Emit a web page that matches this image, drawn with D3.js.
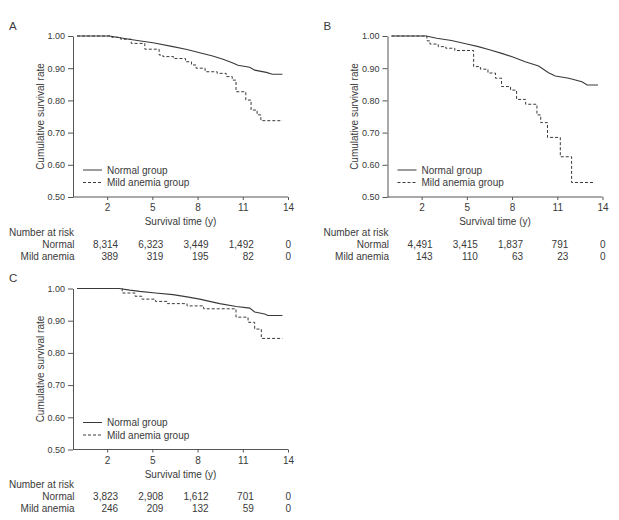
<!DOCTYPE html>
<html>
<head>
<meta charset="utf-8">
<script src="https://cdn.jsdelivr.net/npm/d3@7"></script>
<style>
    body { margin: 0; background: #fff; }
    svg text { font-family: "Liberation Sans", Arial, sans-serif; fill: #3a3a3a; }
</style>
</head>
<body>
<div id="chart"></div>
<script>
// values
const timeTicks = [2, 5, 8, 11, 14]
const rateTicks = [0.5, 0.6, 0.7, 0.8, 0.9, 1.0]
const groupNames = ["Normal group", "Mild anemia group"]
const riskLabels = ["Normal", "Mild anemia"]

// A
const normalTimeA = [0, 2.15, 3.05, 4.0, 5.04, 6.37, 7.3, 8.14, 9.0, 9.69, 10.3, 10.68, 11.46, 11.79, 12.56, 12.96, 13.63]
const normalRateA = [1, 1, 0.993, 0.986, 0.979, 0.967, 0.958, 0.948, 0.938, 0.928, 0.917, 0.909, 0.903, 0.894, 0.887, 0.881, 0.881]
const mildTimeA = [0, 2.3, 2.9, 3.6, 4.5, 5.45, 5.7, 6.4, 7.2, 7.6, 7.9, 8.5, 9.3, 9.9, 10.3, 10.55, 11.2, 11.55, 11.95, 12.2, 13.63]
const mildRateA = [1, 0.996, 0.99, 0.977, 0.959, 0.941, 0.936, 0.93, 0.92, 0.91, 0.9, 0.889, 0.884, 0.874, 0.863, 0.827, 0.801, 0.77, 0.755, 0.737, 0.737]
const riskNormalA = [8314, 6323, 3449, 1492, 0]
const riskMildA = [389, 319, 195, 82, 0]

// B
const normalTimeB = [0, 2.3, 3.0, 3.98, 5.0, 5.76, 6.5, 7.31, 8.1, 8.87, 9.76, 10.42, 10.87, 11.76, 12.64, 12.98, 13.7]
const normalRateB = [1, 1, 0.993, 0.986, 0.975, 0.967, 0.957, 0.946, 0.934, 0.92, 0.907, 0.886, 0.876, 0.869, 0.858, 0.848, 0.848]
const mildTimeB = [0, 2.35, 2.55, 3.1, 3.6, 4.2, 5.45, 5.9, 6.4, 6.9, 7.3, 7.9, 8.3, 8.9, 9.65, 9.9, 10.35, 11.2, 11.95, 13.42]
const mildRateB = [1, 0.985, 0.975, 0.967, 0.962, 0.955, 0.905, 0.897, 0.885, 0.869, 0.843, 0.832, 0.803, 0.788, 0.755, 0.731, 0.685, 0.625, 0.545, 0.545]
const riskNormalB = [4491, 3415, 1837, 791, 0]
const riskMildB = [143, 110, 63, 23, 0]

// C
const normalTimeC = [0, 2.8, 3.5, 4.16, 5.2, 6.37, 7.3, 8.14, 8.8, 9.47, 10.57, 11.46, 11.79, 12.45, 12.67, 13.63]
const normalRateC = [1, 1, 0.995, 0.991, 0.986, 0.981, 0.974, 0.967, 0.96, 0.953, 0.944, 0.939, 0.927, 0.921, 0.916, 0.916]
const mildTimeC = [0, 3.0, 3.85, 4.3, 5.2, 6.0, 7.3, 8.4, 10.55, 11.35, 11.79, 12.23, 13.63]
const mildRateC = [1, 0.986, 0.976, 0.967, 0.96, 0.953, 0.946, 0.937, 0.911, 0.895, 0.874, 0.845, 0.845]
const riskNormalC = [3823, 2908, 1612, 701, 0]
const riskMildC = [246, 209, 132, 59, 0]

const width = 619
const height = 520

const svg = d3.select("#chart")
    .append("svg")
    .attr("width", width)
    .attr("height", height)

const ink = "#3a3a3a"

function drawPanel(p) {
    const plotH = 161
    const bottom = p.top + plotH

    const x = d3.scaleLinear().domain([0, 14]).range([p.left + 4, p.left + 215])
    const y = d3.scaleLinear().domain([0.5, 1]).range([bottom, p.top])

    const g = svg.append("g")

    //panel letter
    g.append("text")
        .attr("x", p.left - 64)
        .attr("y", p.top - 6.5)
        .style("font-size", "11.5px")
        .text(p.letter)

    //y axis
    const yAxis = g.append("g")
        .attr("transform", `translate(${p.left},0)`)
        .call(d3.axisLeft(y).tickValues(rateTicks).tickFormat(d3.format(".2f"))
            .tickSize(5).tickSizeOuter(0).tickPadding(3))
    yAxis.selectAll("text").style("font-size", "9px").attr("fill", ink)

    g.append("text")
        .attr("transform", `translate(${p.left - 29.5},${(p.top + bottom) / 2}) rotate(-90)`)
        .attr("text-anchor", "middle")
        .style("font-size", "10px")
        .text("Cumulative survival rate")

    //x axis, the line starts at the y axis
    const xAxis = g.append("g")
        .attr("transform", `translate(0,${bottom})`)
        .call(d3.axisBottom(x).tickValues(timeTicks).tickSize(3).tickSizeOuter(0).tickPadding(4))
    xAxis.select(".domain").remove()
    xAxis.append("line")
        .attr("x1", p.left)
        .attr("x2", x(14))
        .attr("stroke", "currentColor")
    xAxis.selectAll("text").style("font-size", "10px").attr("fill", ink)

    g.selectAll(".domain, .tick line, line").attr("stroke", "#555")

    g.append("text")
        .attr("x", (p.left + x(14)) / 2)
        .attr("y", bottom + 28.2)
        .attr("text-anchor", "middle")
        .style("font-size", "10px")
        .text("Survival time (y)")

    //survival curves
    const line = d3.line().x(d => x(d[0])).y(d => y(d[1]))

    g.append("path")
        .datum(d3.zip(p.normalTime, p.normalRate))
        .attr("d", line.curve(d3.curveLinear))
        .attr("fill", "none")
        .attr("stroke", ink)
        .attr("stroke-width", 1.1)

    g.append("path")
        .datum(d3.zip(p.mildTime, p.mildRate))
        .attr("d", line.curve(d3.curveStepAfter))
        .attr("fill", "none")
        .attr("stroke", ink)
        .attr("stroke-width", 1)
        .attr("stroke-dasharray", "3,2")

    //legend
    groupNames.forEach((name, i) => {
        const ly = p.top + 134 + i * 12.5
        g.append("line")
            .attr("x1", p.left + 10)
            .attr("x2", p.left + 29)
            .attr("y1", ly)
            .attr("y2", ly)
            .attr("stroke", ink)
            .attr("stroke-dasharray", i === 0 ? null : "3,2")
        g.append("text")
            .attr("x", p.left + 34)
            .attr("y", ly + 3.6)
            .style("font-size", "10px")
            .text(name)
    })

    //number at risk table
    g.append("text")
        .attr("x", p.left - 64)
        .attr("y", bottom + 38.5)
        .style("font-size", "10px")
        .text("Number at risk")

    const rows = [p.riskNormal, p.riskMild]
    rows.forEach((row, i) => {
        const ry = bottom + 50.5 + i * 12
        g.append("text")
            .attr("x", p.left + 1.5)
            .attr("y", ry)
            .attr("text-anchor", "end")
            .style("font-size", "10px")
            .text(riskLabels[i])

        g.selectAll(null)
            .data(row)
            .enter()
            .append("text")
            .attr("x", (d, j) => x(timeTicks[j]) + (timeTicks[j] === 14 ? 3 : 11))
            .attr("y", ry)
            .attr("text-anchor", "end")
            .style("font-size", "10px")
            .text(d => d3.format(",")(d))
    })
}

drawPanel({
    letter: "A", left: 73, top: 36,
    normalTime: normalTimeA, normalRate: normalRateA,
    mildTime: mildTimeA, mildRate: mildRateA,
    riskNormal: riskNormalA, riskMild: riskMildA
})

drawPanel({
    letter: "B", left: 387.5, top: 36,
    normalTime: normalTimeB, normalRate: normalRateB,
    mildTime: mildTimeB, mildRate: mildRateB,
    riskNormal: riskNormalB, riskMild: riskMildB
})

drawPanel({
    letter: "C", left: 73, top: 288.5,
    normalTime: normalTimeC, normalRate: normalRateC,
    mildTime: mildTimeC, mildRate: mildRateC,
    riskNormal: riskNormalC, riskMild: riskMildC
})
</script>
</body>
</html>
